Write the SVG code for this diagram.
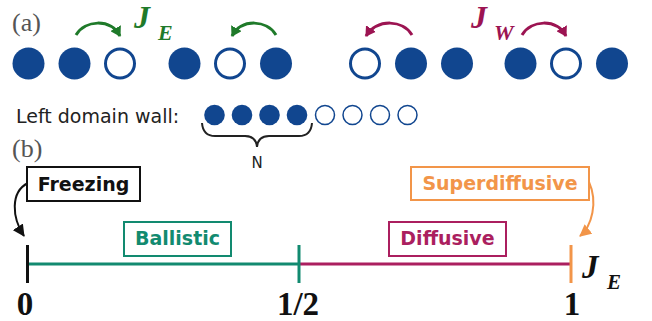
<svg xmlns="http://www.w3.org/2000/svg" width="652" height="321" viewBox="0 0 652 321">
<style>
.f{fill:#11468f}
.h{fill:#fff;stroke:#11468f;stroke-width:3}
.sf{fill:#11468f}
.sh{fill:#fff;stroke:#11468f;stroke-width:1.5}
.lbl{font-family:"Liberation Serif",serif;font-size:26px;fill:#555}
.math{font-family:"Liberation Serif",serif;font-weight:bold;font-style:italic}
.num{font-family:"Liberation Serif",serif;font-weight:bold;font-size:33px;fill:#111;text-anchor:middle}
.box{fill:#fff;stroke-width:2}
.bt{font-family:"DejaVu Sans",sans-serif;font-weight:bold;font-size:19px;text-anchor:middle}
.arc{fill:none;stroke-width:3}
</style>
<defs>
<marker id="ag" viewBox="0 0 10 12" refX="9" refY="6" markerWidth="10" markerHeight="12" markerUnits="userSpaceOnUse" orient="auto"><path d="M0,0 L10,6 L0,12 z" fill="#1f7a2a"/></marker>
<marker id="am" viewBox="0 0 10 12" refX="9" refY="6" markerWidth="10" markerHeight="12" markerUnits="userSpaceOnUse" orient="auto"><path d="M0,0 L10,6 L0,12 z" fill="#9c1452"/></marker>
<marker id="ak" viewBox="0 0 12 12" refX="11" refY="6" markerWidth="12" markerHeight="12" markerUnits="userSpaceOnUse" orient="auto"><path d="M0,0 L12,6 L0,12 z" fill="#111"/></marker>
<marker id="ao" viewBox="0 0 12 12" refX="11" refY="6" markerWidth="12" markerHeight="12" markerUnits="userSpaceOnUse" orient="auto"><path d="M0,0 L12,6 L0,12 z" fill="#f29549"/></marker>
</defs>

<text class="lbl" x="12" y="31">(a)</text>
<text class="lbl" x="12" y="157">(b)</text>

<g id="row-a">
<circle class="f" cx="28.5" cy="63.5" r="16"/>
<circle class="f" cx="74.5" cy="63.5" r="16"/>
<circle class="h" cx="120" cy="63.5" r="14.5"/>
<circle class="f" cx="184.5" cy="63.5" r="16"/>
<circle class="h" cx="230" cy="63.5" r="14.5"/>
<circle class="f" cx="276" cy="63.5" r="16"/>
<circle class="h" cx="365" cy="63.5" r="14.5"/>
<circle class="f" cx="411" cy="63.5" r="16"/>
<circle class="f" cx="457" cy="63.5" r="16"/>
<circle class="f" cx="520.5" cy="63.5" r="16"/>
<circle class="h" cx="566" cy="63.5" r="14.5"/>
<circle class="f" cx="612" cy="63.5" r="16"/>
</g>

<g id="hops">
<path class="arc" stroke="#1f7a2a" d="M76,35 C85,20 110,18 120,36" marker-end="url(#ag)"/>
<path class="arc" stroke="#1f7a2a" d="M276,35 C267,20 242,18 232,36" marker-end="url(#ag)"/>
<path class="arc" stroke="#9c1452" d="M412,35 C403,20 378,18 366,36" marker-end="url(#am)"/>
<path class="arc" stroke="#9c1452" d="M522,35 C531,20 556,18 566,36" marker-end="url(#am)"/>
</g>
<text class="math" x="134" y="28" font-size="32" fill="#1f7a2a">J</text>
<text class="math" x="158" y="40" font-size="22" fill="#1f7a2a">E</text>
<text class="math" x="471" y="28" font-size="32" fill="#9c1452">J</text>
<text class="math" x="494" y="40" font-size="22" fill="#9c1452">W</text>

<g id="domain-wall">
<text x="16" y="123" font-family="DejaVu Sans,sans-serif" font-size="19" fill="#222">Left domain wall:</text>
<circle class="sf" cx="214.5" cy="115" r="10.3"/>
<circle class="sf" cx="242" cy="115" r="10.3"/>
<circle class="sf" cx="269.5" cy="115" r="10.3"/>
<circle class="sf" cx="297" cy="115" r="10.3"/>
<circle class="sh" cx="325" cy="115" r="9.5"/>
<circle class="sh" cx="352.5" cy="115" r="9.5"/>
<circle class="sh" cx="380" cy="115" r="9.5"/>
<circle class="sh" cx="407.5" cy="115" r="9.5"/>
<path d="M202,123 Q203,136 215,136 L245,136 Q256,136 257,147 Q258,136 269,136 L299,136 Q311,136 312,123" fill="none" stroke="#222" stroke-width="2"/>
<text x="257" y="168" font-family="DejaVu Sans,sans-serif" font-size="15" fill="#222" text-anchor="middle">N</text>
</g>

<g id="axis">
<line x1="27" y1="264" x2="300" y2="264" stroke="#128a70" stroke-width="3"/>
<line x1="300" y1="264" x2="571" y2="264" stroke="#ab1f5f" stroke-width="3"/>
<line x1="27.5" y1="245" x2="27.5" y2="283" stroke="#111" stroke-width="3"/>
<line x1="299" y1="245" x2="299" y2="283" stroke="#128a70" stroke-width="3"/>
<line x1="571" y1="245" x2="571" y2="283" stroke="#f29549" stroke-width="3"/>
<text class="num" x="25" y="315">0</text>
<text class="num" x="298" y="315">1/2</text>
<text class="num" x="572" y="315">1</text>
<text class="math" x="582" y="278" font-size="33" fill="#111">J</text>
<text class="math" x="607" y="289" font-size="21" fill="#111">E</text>
</g>

<g id="connectors">
<path d="M28,183 C10,192 12,218 24,236" fill="none" stroke="#111" stroke-width="2" marker-end="url(#ak)"/>
<path d="M589,182 C598,202 592,226 580,236" fill="none" stroke="#f29549" stroke-width="2" marker-end="url(#ao)"/>
</g>

<g id="freezing">
<rect class="box" x="27" y="167" width="113" height="34" stroke="#111"/>
<text class="bt" x="83.5" y="191" fill="#111">Freezing</text>
</g>
<g id="ballistic">
<rect class="box" x="124" y="222" width="107" height="34" stroke="#128a70"/>
<text class="bt" x="177.5" y="245" fill="#128a70">Ballistic</text>
</g>
<g id="diffusive">
<rect class="box" x="389" y="222" width="117" height="34" stroke="#ab1f5f"/>
<text class="bt" x="447.5" y="245" fill="#ab1f5f">Diffusive</text>
</g>
<g id="superdiffusive">
<rect class="box" x="411" y="167" width="178" height="33" stroke="#f29549"/>
<text class="bt" x="500" y="190" fill="#f29549">Superdiffusive</text>
</g>
</svg>
